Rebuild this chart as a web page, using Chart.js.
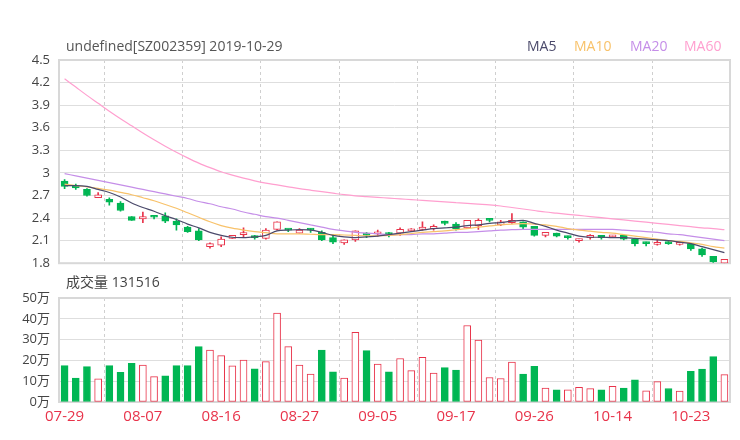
<!DOCTYPE html>
<html>
<head>
<meta charset="utf-8">
<script src="https://cdn.jsdelivr.net/npm/chart.js@4/dist/chart.umd.min.js"></script>
<style>
  body { margin: 0; background: #fff; }
  #wrap { position: relative; width: 740px; height: 440px; font-family: "Open Sans", "Noto Sans CJK SC", sans-serif; }
  canvas { position: absolute; left: 0; }
  #kline { top: 0; }
  #vol { top: 270px; }
  .txt { position: absolute; font-size: 14px; line-height: 16px; white-space: nowrap; color: #555; }
</style>
</head>
<body>
<div id="wrap">
  <canvas id="vol" width="740" height="170"></canvas>
  <canvas id="kline" width="740" height="280"></canvas>
  <div class="txt" style="left:66px;top:38px">undefined[SZ002359] 2019-10-29</div>
  <div class="txt" style="left:527px;top:38px;color:#4b4a6b">MA5</div>
  <div class="txt" style="left:574px;top:38px;color:#f8c26a">MA10</div>
  <div class="txt" style="left:630px;top:38px;color:#c58ee8">MA20</div>
  <div class="txt" style="left:684px;top:38px;color:#ff9fcf">MA60</div>
  <div class="txt" style="left:66px;top:274px;color:#444">成交量 131516</div>
</div>
<script>
// 60 trading days
var dates = ["07-29","07-30","07-31","08-01","08-02","08-05","08-06","08-07","08-08","08-09",
  "08-12","08-13","08-14","08-15","08-16","08-19","08-20","08-21","08-22","08-23",
  "08-26","08-27","08-28","08-29","08-30","09-02","09-03","09-04","09-05","09-06",
  "09-09","09-10","09-11","09-12","09-16","09-17","09-18","09-19","09-20","09-23",
  "09-24","09-25","09-26","09-27","09-30","10-08","10-09","10-10","10-11","10-14",
  "10-15","10-16","10-17","10-18","10-21","10-22","10-23","10-24","10-25","10-28"];

var open = [2.89,2.83,2.78,2.67,2.65,2.60,2.42,2.39,2.41,2.43,
  2.36,2.28,2.23,2.02,2.04,2.13,2.18,2.15,2.13,2.25,
  2.24,2.20,2.24,2.21,2.14,2.07,2.11,2.20,2.19,2.20,
  2.20,2.23,2.25,2.26,2.36,2.32,2.27,2.30,2.37,2.31,
  2.34,2.35,2.29,2.17,2.20,2.14,2.10,2.14,2.17,2.15,
  2.17,2.12,2.06,2.05,2.08,2.05,2.06,1.99,1.89,1.80];
var close = [2.82,2.80,2.70,2.71,2.61,2.50,2.37,2.42,2.41,2.36,
  2.31,2.22,2.11,2.06,2.12,2.17,2.20,2.14,2.24,2.35,
  2.24,2.24,2.24,2.11,2.08,2.11,2.23,2.17,2.21,2.18,
  2.25,2.25,2.28,2.29,2.33,2.26,2.37,2.37,2.37,2.35,
  2.37,2.28,2.17,2.21,2.16,2.14,2.12,2.17,2.14,2.17,
  2.12,2.06,2.06,2.06,2.06,2.07,1.99,1.91,1.82,1.85];
var high = [2.91,2.85,2.79,2.74,2.67,2.62,2.42,2.48,2.43,2.47,
  2.39,2.29,2.26,2.07,2.15,2.17,2.27,2.17,2.26,2.35,
  2.25,2.26,2.26,2.23,2.17,2.11,2.23,2.21,2.24,2.21,
  2.27,2.26,2.35,2.31,2.36,2.34,2.37,2.39,2.39,2.37,
  2.46,2.35,2.29,2.21,2.20,2.16,2.12,2.18,2.17,2.17,
  2.17,2.13,2.08,2.11,2.09,2.08,2.06,2.00,1.89,1.85];
var low = [2.79,2.78,2.69,2.67,2.57,2.49,2.37,2.34,2.39,2.34,
  2.24,2.21,2.10,2.00,2.02,2.13,2.14,2.12,2.12,2.24,
  2.22,2.20,2.21,2.10,2.06,2.05,2.09,2.14,2.16,2.15,
  2.17,2.22,2.24,2.24,2.31,2.24,2.26,2.25,2.35,2.30,
  2.33,2.26,2.16,2.15,2.15,2.12,2.08,2.12,2.12,2.14,
  2.11,2.03,2.03,2.04,2.05,2.04,1.97,1.89,1.81,1.80];

var ma5 = [2.83,2.83,2.82,2.78,2.74,2.68,2.60,2.54,2.49,2.43,
  2.38,2.32,2.27,2.21,2.17,2.145,2.14,2.15,2.17,2.23,
  2.24,2.245,2.24,2.21,2.17,2.15,2.14,2.15,2.16,2.18,
  2.20,2.22,2.24,2.26,2.27,2.28,2.30,2.31,2.33,2.34,
  2.36,2.37,2.33,2.29,2.24,2.20,2.16,2.145,2.145,2.14,
  2.14,2.13,2.12,2.11,2.10,2.08,2.06,2.02,1.98,1.94];
var ma10 = [2.85,2.83,2.815,2.795,2.77,2.74,2.71,2.67,2.63,2.58,
  2.53,2.47,2.41,2.35,2.30,2.265,2.24,2.22,2.205,2.19,
  2.19,2.19,2.185,2.18,2.18,2.175,2.17,2.165,2.165,2.17,
  2.18,2.195,2.21,2.22,2.23,2.245,2.26,2.28,2.295,2.31,
  2.32,2.325,2.32,2.31,2.29,2.26,2.24,2.225,2.21,2.20,
  2.18,2.16,2.14,2.12,2.10,2.09,2.07,2.05,2.02,2.00];
var ma20 = [2.99,2.96,2.93,2.90,2.87,2.84,2.81,2.78,2.75,2.72,
  2.69,2.66,2.62,2.59,2.55,2.52,2.48,2.45,2.42,2.40,
  2.37,2.34,2.31,2.28,2.25,2.23,2.21,2.20,2.19,2.18,
  2.18,2.18,2.19,2.19,2.20,2.21,2.21,2.22,2.23,2.24,
  2.245,2.25,2.25,2.25,2.25,2.25,2.25,2.25,2.25,2.25,
  2.24,2.23,2.22,2.21,2.19,2.18,2.16,2.14,2.12,2.10];
var ma60 = [4.25,4.14,4.03,3.925,3.82,3.72,3.625,3.53,3.44,3.355,
  3.275,3.20,3.13,3.07,3.015,2.97,2.93,2.895,2.865,2.84,
  2.815,2.79,2.77,2.75,2.73,2.71,2.695,2.685,2.675,2.665,
  2.655,2.645,2.635,2.625,2.615,2.605,2.595,2.585,2.575,2.56,
  2.54,2.52,2.50,2.48,2.465,2.45,2.435,2.42,2.405,2.39,
  2.375,2.36,2.345,2.33,2.315,2.30,2.285,2.27,2.26,2.245];

// volume, unit: 万
var volume = [17.5,11.5,17.0,11.1,17.5,14.3,18.6,17.8,12.2,12.6,
  17.5,17.5,26.6,25.0,22.3,17.4,20.2,15.9,19.4,42.8,
  26.6,17.8,13.4,25.0,14.5,11.5,33.5,24.7,18.2,14.5,
  20.9,15.1,21.5,13.9,16.5,15.3,36.8,29.8,11.8,11.3,
  19.2,13.4,17.2,6.7,5.9,5.9,7.0,6.4,5.9,7.5,
  6.7,10.7,5.4,9.8,6.5,5.3,14.8,15.8,21.8,13.15];

var priceTicks = [1.8,2.1,2.4,2.7,3,3.3,3.6,3.9,4.2,4.5];
var volTicks = [0,10,20,30,40,50];

var RED = '#e8334a', GREEN = '#00b653';
var FONT = "'Open Sans', 'Noto Sans CJK SC', sans-serif";

var candleUp = close.map(function(c, i) { return c > open[i]; });
var volUp = close.map(function(c, i) { return c >= open[i]; });

// dashed vertical lines between label groups + frame
var frame = {
  id: 'frame',
  beforeDatasetsDraw: function(chart) {
    var ctx = chart.ctx, a = chart.chartArea, x = chart.scales.x;
    ctx.save();
    ctx.strokeStyle = '#cfcfcf';
    ctx.lineWidth = 1;
    ctx.setLineDash([3, 3]);
    for (var i = 3.5; i < dates.length; i += 7) {
      var px = Math.round(x.getPixelForValue(i)) + 0.5;
      ctx.beginPath(); ctx.moveTo(px, a.top); ctx.lineTo(px, a.bottom); ctx.stroke();
    }
    ctx.setLineDash([]);
    ctx.strokeStyle = '#d8d8d8';
    ctx.lineWidth = 2;
    ctx.strokeRect(a.left, a.top, a.width, a.height);
    ctx.restore();
  }
};

function lineSet(label, data, color) {
  return { type: 'line', label: label, data: data, borderColor: color, borderWidth: 1.2,
    pointRadius: 0, cubicInterpolationMode: 'monotone', fill: false, order: 1 };
}

new Chart(document.getElementById('kline'), {
  type: 'bar',
  data: {
    labels: dates,
    datasets: [
      { label: 'body', data: open.map(function(o, i) { return [o, close[i]]; }),
        backgroundColor: candleUp.map(function(u) { return u ? '#fff' : GREEN; }),
        borderColor: candleUp.map(function(u) { return u ? RED : GREEN; }),
        borderWidth: 1, borderSkipped: false, barThickness: 7, minBarLength: 2, grouped: false, order: 2 },
      { label: 'wick', data: low.map(function(l, i) { return [l, high[i]]; }),
        backgroundColor: candleUp.map(function(u) { return u ? RED : GREEN; }),
        borderWidth: 0, barThickness: 1, grouped: false, order: 3 },
      lineSet('MA5', ma5, '#4b4a6b'),
      lineSet('MA10', ma10, '#f8c26a'),
      lineSet('MA20', ma20, '#c58ee8'),
      lineSet('MA60', ma60, '#ff9fcf')
    ]
  },
  options: {
    responsive: false,
    animation: false,
    layout: { padding: { top: 60, bottom: 0, left: 0, right: 10 } },
    plugins: { legend: { display: false }, tooltip: { enabled: false } },
    scales: {
      x: { display: false, offset: true, grid: { display: false } },
      y: {
        min: 1.8, max: 4.5,
        afterBuildTicks: function(s) { s.ticks = priceTicks.map(function(v) { return { value: v }; }); },
        afterFit: function(s) { s.width = 59; },
        border: { display: false },
        grid: { color: '#dedede', drawTicks: false },
        ticks: { padding: 9, color: '#444', font: { family: FONT, size: 13 },
          callback: function(v) { return String(+v.toFixed(2)); } }
      }
    }
  },
  plugins: [frame]
});

new Chart(document.getElementById('vol'), {
  type: 'bar',
  data: {
    labels: dates,
    datasets: [{
      label: 'volume', data: volume,
      backgroundColor: volUp.map(function(u) { return u ? '#fff' : GREEN; }),
      borderColor: volUp.map(function(u) { return u ? RED : GREEN; }),
      borderWidth: 1, borderSkipped: false, barThickness: 7
    }]
  },
  options: {
    responsive: false,
    animation: false,
    layout: { padding: { top: 28, bottom: 8, left: 0, right: 10 } },
    plugins: { legend: { display: false }, tooltip: { enabled: false } },
    scales: {
      x: {
        offset: true,
        grid: { display: false, drawTicks: false },
        border: { display: false },
        afterFit: function(s) { s.height = 30; },
        ticks: { autoSkip: false, maxRotation: 0, padding: 6, color: RED, font: { family: FONT, size: 15 },
          callback: function(v, i) { return i % 7 === 0 ? dates[i] : ''; } }
      },
      y: {
        min: 0, max: 50,
        afterBuildTicks: function(s) { s.ticks = volTicks.map(function(v) { return { value: v }; }); },
        afterFit: function(s) { s.width = 59; },
        border: { display: false },
        grid: { color: '#dedede', drawTicks: false },
        ticks: { padding: 9, color: '#444', font: { family: FONT, size: 13 },
          callback: function(v) { return v + '万'; } }
      }
    }
  },
  plugins: [frame]
});
</script>
</body>
</html>
